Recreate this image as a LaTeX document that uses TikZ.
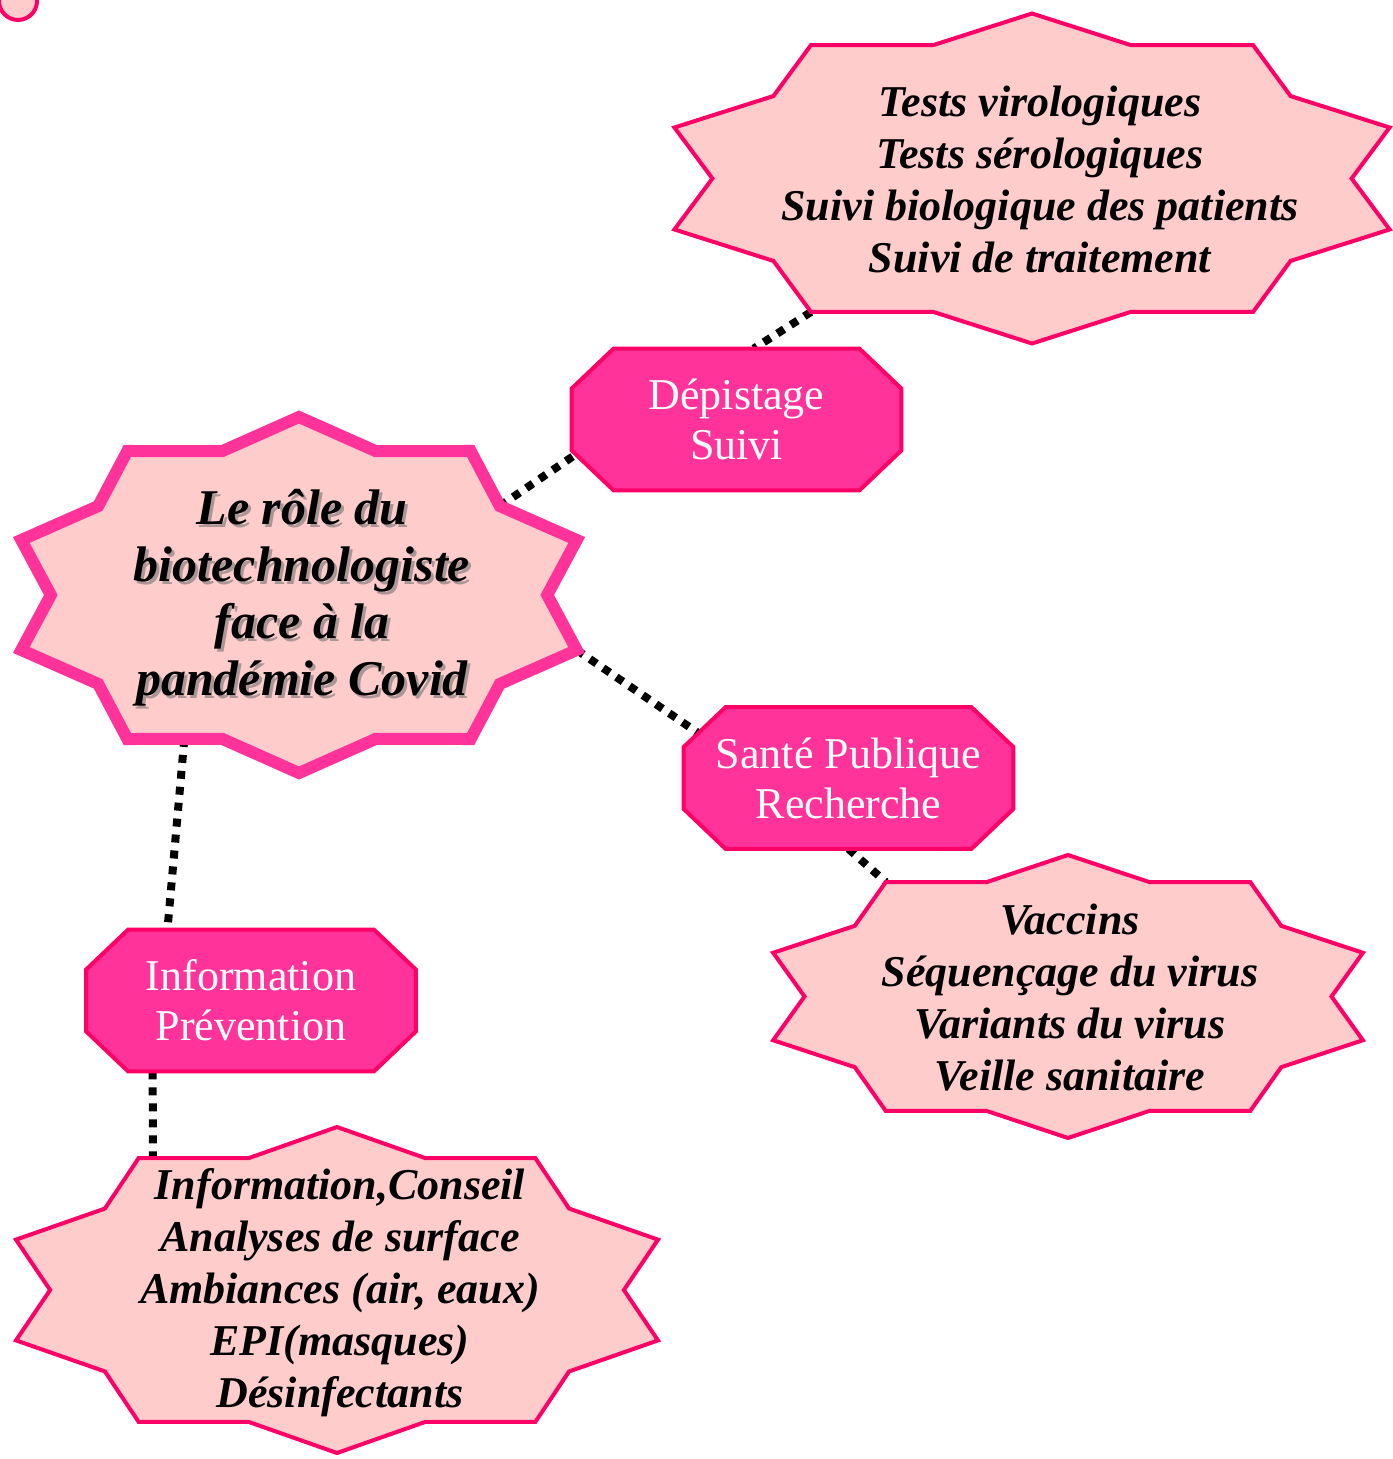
\documentclass[tikz,border=0pt]{standalone}
\usepackage{fontspec}
\setmainfont{Liberation Serif}
\usetikzlibrary{calc}
\pgfdeclarelayer{links}
\pgfdeclarelayer{boxes}
\pgfsetlayers{links,boxes,main}
\definecolor{pRose}{RGB}{255,0,102}
\definecolor{pPink}{RGB}{255,51,153}
\definecolor{pLight}{RGB}{255,204,204}
\tikzset{
    octo/.style={rectangle, minimum width=164.5pt, minimum height=70.5pt, inner sep=0pt,
        text=white, align=center, font=\fontsize{22}{25}\selectfont},
    octoline/.style={draw=pRose, line width=2pt, fill=pPink},
    thinstar/.style={draw=pRose, line width=2pt, fill=pLight},
    bigstar/.style={draw=pPink, line width=6pt, fill=pLight},
    startext/.style={align=center, font=\fontsize{22}{26}\selectfont\bfseries\itshape},
    bigtext/.style={align=center, font=\fontsize{25}{28.5}\selectfont\bfseries\itshape},
    link/.style={line width=4pt, dash pattern=on 4pt off 4pt},
    dotc/.style={circle, draw=pRose, line width=2pt, fill=pLight, minimum size=19pt, inner sep=0pt}
}
\newcommand{\tenstar}[6]{%
    \coordinate (#1) at (#2,#3);
    \foreach \i in {0,...,19}{
        \pgfmathsetmacro\rr{1-0.15*mod(\i,2)}
        \coordinate (#1-\i) at ($(#1)+(90+18*\i:\rr*#4 and \rr*#5)$);
    }
    \draw[#6] (#1-0) \foreach \i in {1,...,19}{-- (#1-\i)} -- cycle;
}
\newcommand{\octobox}[4]{%
    \node[octo] (#1) at (#2,#3) {#4};
    \coordinate (#1-1) at ($(#1.north west)+(21pt,0)$);
    \coordinate (#1-2) at ($(#1.north east)+(-21pt,0)$);
    \coordinate (#1-3) at ($(#1.north east)+(0,-20pt)$);
    \coordinate (#1-4) at ($(#1.south east)+(0,20pt)$);
    \coordinate (#1-5) at ($(#1.south east)+(-21pt,0)$);
    \coordinate (#1-6) at ($(#1.south west)+(21pt,0)$);
    \coordinate (#1-7) at ($(#1.south west)+(0,20pt)$);
    \coordinate (#1-8) at ($(#1.north west)+(0,-20pt)$);
    \begin{pgfonlayer}{boxes}
    \draw[octoline] (#1-1) \foreach \i in {2,...,8}{-- (#1-\i)} -- cycle;
    \end{pgfonlayer}
}

\begin{document}
\begin{tikzpicture}[x=0.5pt,y=0.5pt]
\useasboundingbox (0,0) rectangle (1392,-1459);
\node[dotc] (dot) at (18,-1) {};

\tenstar{c}{299}{-595}{292}{178}{bigstar}
\tenstar{tr}{1032}{-178.5}{376}{165}{thinstar}
\tenstar{br}{1068}{-996.5}{310}{141.5}{thinstar}
\tenstar{bl}{337}{-1290}{337.5}{163}{thinstar}
\coordinate (cfoot) at ($(c-8)!0.6!(c-9)$);
\coordinate (bltop) at ($(bl-2)!0.13!(bl-1)$);

\node[bigtext, text=black!55, opacity=0.6] (cshadow) at (305,-601)
    {Le rôle du\\biotechnologiste\\face à la\\pandémie Covid};
\node[bigtext] (ctext) at (302,-598)
    {Le rôle du\\biotechnologiste\\face à la\\pandémie Covid};

\octobox{dep}{736.5}{-419.5}{Dépistage\\Suivi}
\octobox{san}{848.5}{-778}{Santé Publique\\Recherche}
\octobox{info}{251}{-1000.5}{Information\\Prévention}

\node[startext] (trtext) at (1040,-179)
    {Tests virologiques\\Tests sérologiques\\Suivi biologique des patients\\Suivi de traitement};
\node[startext] (brtext) at (1070,-998)
    {Vaccins\\Séquençage du virus\\Variants du virus\\Veille sanitaire};
\node[startext] (bltext) at (340,-1293)
    {Information,Conseil\\Analyses de surface\\Ambiances (air, eaux)\\EPI(masques)\\Désinfectants};

\begin{pgfonlayer}{links}
\draw[link] (c-17) -- ($(dep-7)!0.1!(dep-6)$);
\draw[link] (tr-8) -- ($(dep-1)!0.57!(dep-2)$);
\draw[link] (c-14) -- ($(san-8)!0.35!(san-1)$);
\draw[link] (san.south) -- (br-2);
\draw[link] (cfoot) -- ($(info-1)!0.16!(info-2)$);
\draw[link] ($(info-6)!0.1!(info-5)$) -- (bltop);
\end{pgfonlayer}
\end{tikzpicture}
\end{document}
